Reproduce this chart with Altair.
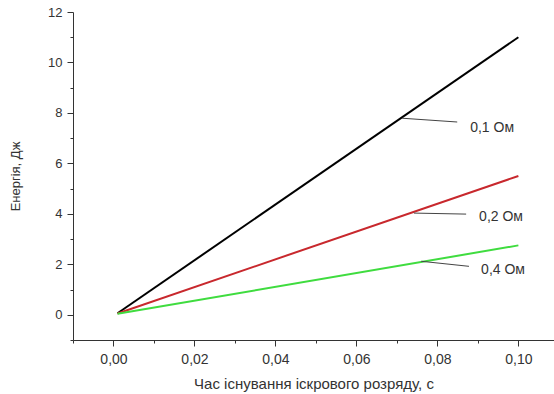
import altair as alt
import pandas as pd

# Data
series = ["0,1 Ом", "0,2 Ом", "0,4 Ом"]
t_start = [0.001, 0.001, 0.001]
t_end = [0.10, 0.10, 0.10]
e_start = [0.06, 0.05, 0.04]
e_end = [11.0, 5.5, 2.75]
colors = ["#000000", "#c8282d", "#3fdc3f"]

# annotation leader lines and labels (data units)
lead_x1 = [0.0713, 0.0742, 0.0760]
lead_y1 = [7.79, 4.03, 2.12]
lead_x2 = [0.0849, 0.0871, 0.0878]
lead_y2 = [7.64, 3.99, 1.92]
lab_x = [0.0881, 0.0903, 0.0908]
lab_y = [7.40, 3.87, 1.77]

x_major = [0.0, 0.02, 0.04, 0.06, 0.08, 0.10]
x_minor = [-0.01, 0.01, 0.03, 0.05, 0.07, 0.09]
y_major = [0, 2, 4, 6, 8, 10, 12]
y_minor = [-1, 1, 3, 5, 7, 9, 11]

rows = []
for i, s in enumerate(series):
    rows.append({"s": s, "t": t_start[i], "e": e_start[i], "o": 0})
    rows.append({"s": s, "t": t_end[i], "e": e_end[i], "o": 1})
df = pd.DataFrame(rows)

ann = pd.DataFrame({
    "s": series, "x1": lead_x1, "y1": lead_y1, "x2": lead_x2, "y2": lead_y2,
    "lx": lab_x, "ly": lab_y,
})

FONT = "Liberation Sans"
AX = "#333333"
xs = alt.Scale(domain=[-0.01, 0.1088], nice=False, zero=False)
ys = alt.Scale(domain=[-1, 12], nice=False, zero=False)

common = dict(grid=False, domainColor=AX, tickColor=AX, labelColor=AX, titleColor=AX,
              labelFont=FONT, titleFont=FONT,
              titleFontWeight="normal", labelFlush=False, labelOverlap=False)

x_axis = alt.Axis(
    values=x_major, orient="bottom",
    title="Час існування іскрового розряду, с",
    labelExpr="replace(format(datum.value, '.2f'), '.', ',')",
    tickSize=6, labelPadding=6, titlePadding=10,
    labelFontSize=14, titleFontSize=15, **common,
)
y_axis = alt.Axis(
    values=y_major, orient="left", title="Енергія, Дж",
    format="d", tickSize=6, labelPadding=5, titlePadding=25,
    labelFontSize=13, titleFontSize=13, **common,
)
x_axis_minor = alt.Axis(values=x_minor, orient="bottom", title=None, labels=False,
                        tickSize=3, domain=False, grid=False, tickColor=AX)
y_axis_minor = alt.Axis(values=y_minor, orient="left", title=None, labels=False,
                        tickSize=3, domain=False, grid=False, tickColor=AX)

lines = alt.Chart(df).mark_line(strokeWidth=2).encode(
    x=alt.X("t:Q", scale=xs, axis=x_axis),
    y=alt.Y("e:Q", scale=ys, axis=y_axis),
    color=alt.Color("s:N", scale=alt.Scale(domain=series, range=colors), legend=None),
    order="o:Q",
    detail="s:N",
)

minor = alt.Chart(df).mark_point(opacity=0).encode(
    x=alt.X("t:Q", scale=xs, axis=x_axis_minor),
    y=alt.Y("e:Q", scale=ys, axis=y_axis_minor),
)

leaders = alt.Chart(ann).mark_rule(color="#444444", strokeWidth=1).encode(
    x=alt.X("x1:Q", scale=xs, axis=None), y=alt.Y("y1:Q", scale=ys, axis=None),
    x2="x2:Q", y2="y2:Q",
)

labels = alt.Chart(ann).mark_text(
    align="left", baseline="middle", font=FONT, fontSize=14, color=AX
).encode(
    x=alt.X("lx:Q", scale=xs, axis=None), y=alt.Y("ly:Q", scale=ys, axis=None), text="s:N",
)

chart = alt.layer(lines, minor, leaders, labels).resolve_axis(
    x="independent", y="independent"
).properties(
    width=481, height=328,
    autosize=alt.AutoSizeParams(type="none"),
    padding={"left": 73, "top": 12, "right": 0, "bottom": 54},
    background="white",
).configure_view(stroke=None)

chart.save("out.html", embed_options={"renderer": "svg", "actions": False})
